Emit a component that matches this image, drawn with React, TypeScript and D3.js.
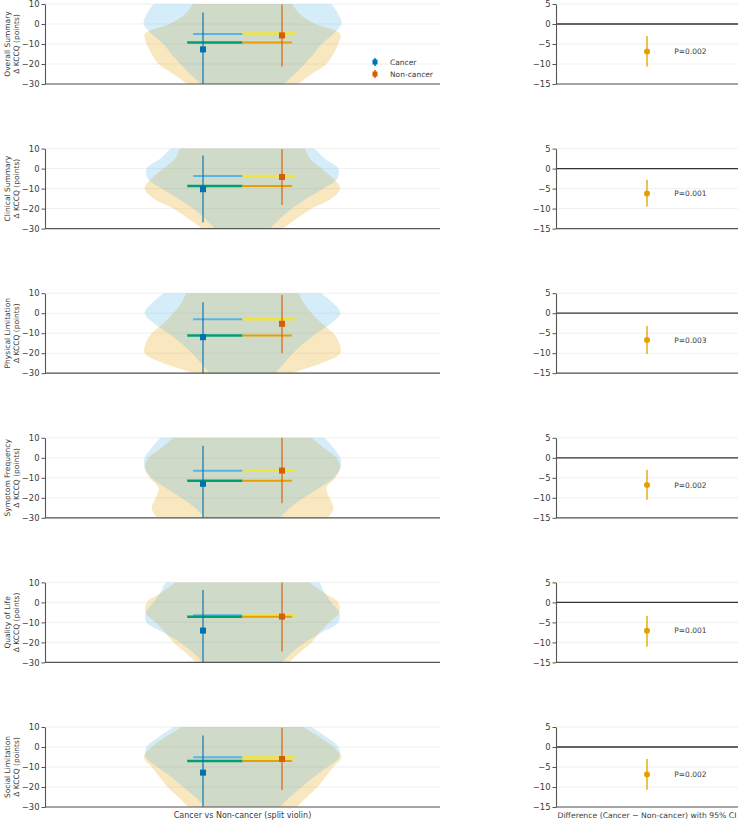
import * as React from 'react';
import * as d3 from 'd3';

// outcome rows
const metrics = [
  'Overall Summary',
  'Clinical Summary',
  'Physical Limitation',
  'Symptom Frequency',
  'Quality of Life',
  'Social Limitation'
];

// violin outlines: relative half-width at each Δ level
const densityLevels = [15, 10, 5, 0, -5, -10, -15, -20, -25, -30, -35];
const cancerDensity = [
  [0.80, 0.90, 0.97, 1.00, 0.92, 0.80, 0.72, 0.63, 0.53, 0.42, 0.32],
  [0.62, 0.73, 0.83, 0.97, 0.96, 0.82, 0.65, 0.50, 0.38, 0.28, 0.20],
  [0.70, 0.80, 0.92, 0.99, 0.90, 0.75, 0.62, 0.51, 0.42, 0.33, 0.25],
  [0.72, 0.83, 0.92, 0.99, 0.99, 0.92, 0.78, 0.62, 0.48, 0.38, 0.30],
  [0.70, 0.78, 0.83, 0.90, 0.98, 0.97, 0.80, 0.63, 0.50, 0.40, 0.30],
  [0.58, 0.70, 0.85, 0.97, 0.98, 0.86, 0.72, 0.60, 0.48, 0.38, 0.30]
];
const nonCancerDensity = [
  [0.42, 0.50, 0.58, 0.74, 0.99, 0.97, 0.92, 0.85, 0.70, 0.56, 0.42],
  [0.55, 0.63, 0.68, 0.80, 0.92, 0.99, 0.90, 0.70, 0.55, 0.41, 0.30],
  [0.52, 0.57, 0.62, 0.70, 0.80, 0.92, 0.98, 0.99, 0.80, 0.50, 0.30],
  [0.60, 0.70, 0.82, 0.95, 0.99, 0.94, 0.85, 0.88, 0.92, 0.86, 0.60],
  [0.58, 0.68, 0.82, 0.97, 0.98, 0.88, 0.78, 0.70, 0.58, 0.47, 0.36],
  [0.52, 0.62, 0.78, 0.92, 1.00, 0.92, 0.84, 0.76, 0.65, 0.55, 0.45]
];

// reference lines across each half
const cancerMedian = [-5.0, -3.7, -3.0, -6.5, -6.4, -5.1];
const cancerMeanLine = [-9.3, -8.7, -11.2, -11.5, -7.2, -7.0];
const nonCancerMedian = [-4.8, -3.7, -3.0, -6.5, -6.6, -5.1];
const nonCancerMeanLine = [-9.3, -8.7, -11.2, -11.5, -7.2, -7.0];

// point ± spread
const cancerMean = [-12.7, -10.3, -12.0, -13.0, -14.1, -12.8];
const cancerLow = [-31, -27, -30.5, -32, -34, -31];
const cancerHigh = [5.7, 6.5, 5.5, 6.0, 6.2, 5.7];
const nonCancerMean = [-5.7, -4.2, -5.3, -6.4, -7.1, -6.0];
const nonCancerLow = [-21.3, -18.2, -20.0, -22.7, -24.6, -21.5];
const nonCancerHigh = [9.8, 9.7, 9.1, 10.4, 10.6, 9.6];

// difference with 95% CI
const diffMean = [-6.9, -6.2, -6.7, -6.8, -7.1, -6.9];
const diffLow = [-10.7, -9.5, -10.2, -10.5, -11.1, -10.7];
const diffHigh = [-3.0, -2.8, -3.2, -3.0, -3.4, -3.0];
const pLabels = ['P=0.002', 'P=0.001', 'P=0.003', 'P=0.002', 'P=0.001', 'P=0.002'];

const leftTicks = [10, 0, -10, -20, -30];
const rightTicks = [5, 0, -5, -10, -15];

const FONT = 'DejaVu Sans, sans-serif';
const BLUE = '#0072B2';
const VERMILION = '#D55E00';
const TEXT = '#3a3a3a';

export default function App() {
  const ref = React.useRef<SVGSVGElement>(null);

  React.useEffect(() => {
    const svg = d3.select(ref.current);
    svg.selectAll('*').remove();

    const panelH = 80;
    const rowStep = 144.6;
    const xl = d3.scaleLinear().domain([-1, 1]).range([45, 440]);
    const xr = d3.scaleLinear().domain([-1, 1]).range([556, 738]);

    const styleAxis = (ax: d3.Selection<SVGGElement, unknown, null, undefined>) => {
      ax.select('.domain').attr('stroke', '#555').attr('stroke-width', 1.1);
      ax.selectAll('.tick line').attr('stroke', '#555');
      ax.selectAll('.tick text').attr('fill', TEXT)
        .style('font-family', FONT).style('font-size', '8.4px');
    };

    metrics.forEach((name, i) => {
      const top = 4 + i * rowStep;
      const yl = d3.scaleLinear().domain([-30, 10]).range([top + panelH, top]);
      const yr = d3.scaleLinear().domain([-15, 5]).range([top + panelH, top]);

      // ----- left: split violin -----
      const clipId = `clip-${i}`;
      svg.append('clipPath').attr('id', clipId)
        .append('rect')
        .attr('x', xl(-1)).attr('y', top)
        .attr('width', xl(1) - xl(-1)).attr('height', panelH);

      const gl = svg.append('g');
      gl.selectAll('line.grid')
        .data(leftTicks)
        .enter().append('line')
        .attr('x1', xl(-1)).attr('x2', xl(1))
        .attr('y1', d => yl(d)).attr('y2', d => yl(d))
        .attr('stroke', '#ebebeb').attr('stroke-width', 0.8);

      const plot = gl.append('g').attr('clip-path', `url(#${clipId})`);

      const violin = d3.area<number>()
        .y((_, j) => yl(densityLevels[j]))
        .x0(d => xl(-d * 0.5))
        .x1(d => xl(d * 0.5))
        .curve(d3.curveCatmullRom);

      plot.append('path').attr('d', violin(nonCancerDensity[i]))
        .attr('fill', '#E69F00').attr('fill-opacity', 0.25);
      plot.append('path').attr('d', violin(cancerDensity[i]))
        .attr('fill', '#56B4E9').attr('fill-opacity', 0.25);

      const hline = (v: number, a: number, b: number, color: string, w: number) => {
        plot.append('line')
          .attr('x1', xl(a)).attr('x2', xl(b))
          .attr('y1', yl(v)).attr('y2', yl(v))
          .attr('stroke', color).attr('stroke-width', w);
      };
      hline(cancerMedian[i], -0.25, 0, '#56B4E9', 2);
      hline(cancerMeanLine[i], -0.28, 0, '#009E73', 2.5);
      hline(nonCancerMedian[i], 0, 0.27, '#F0E442', 2.5);
      hline(nonCancerMeanLine[i], 0, 0.25, '#E69F00', 2);

      const errbar = (xp: number, m: number, lo: number, hi: number, color: string) => {
        plot.append('line')
          .attr('x1', xl(xp)).attr('x2', xl(xp))
          .attr('y1', yl(lo)).attr('y2', yl(hi))
          .attr('stroke', color).attr('stroke-opacity', 0.75).attr('stroke-width', 1.5);
        plot.append('rect')
          .attr('x', xl(xp) - 3).attr('y', yl(m) - 3)
          .attr('width', 6).attr('height', 6)
          .attr('fill', color);
      };
      errbar(-0.2, cancerMean[i], cancerLow[i], cancerHigh[i], BLUE);
      errbar(0.2, nonCancerMean[i], nonCancerLow[i], nonCancerHigh[i], VERMILION);

      const axL = gl.append('g')
        .attr('transform', `translate(${xl(-1)},0)`)
        .call(d3.axisLeft(yl).tickValues(leftTicks).tickSize(3.5).tickSizeOuter(0).tickPadding(2));
      styleAxis(axL);

      gl.append('line')
        .attr('x1', xl(-1)).attr('x2', xl(1))
        .attr('y1', top + panelH).attr('y2', top + panelH)
        .attr('stroke', '#555').attr('stroke-width', 1.2);

      const lab = gl.append('text')
        .attr('transform', `translate(9.5,${top + panelH / 2}) rotate(-90)`)
        .attr('text-anchor', 'middle')
        .attr('fill', TEXT)
        .style('font-family', FONT).style('font-size', '7.5px');
      lab.append('tspan').attr('x', 0).attr('dy', 0).text(name);
      lab.append('tspan').attr('x', 0).attr('dy', 9).text('Δ KCCQ (points)');

      // ----- right: difference -----
      const gr = svg.append('g');
      gr.selectAll('line.grid')
        .data(rightTicks)
        .enter().append('line')
        .attr('x1', xr(-1)).attr('x2', xr(1))
        .attr('y1', d => yr(d)).attr('y2', d => yr(d))
        .attr('stroke', '#ebebeb').attr('stroke-width', 0.8);
      gr.append('line')
        .attr('x1', xr(-1)).attr('x2', xr(1))
        .attr('y1', yr(0)).attr('y2', yr(0))
        .attr('stroke', '#333').attr('stroke-width', 1.3);

      gr.append('line')
        .attr('x1', xr(0)).attr('x2', xr(0))
        .attr('y1', yr(diffLow[i])).attr('y2', yr(diffHigh[i]))
        .attr('stroke', '#E8AE10').attr('stroke-width', 1.5);
      gr.append('circle')
        .attr('cx', xr(0)).attr('cy', yr(diffMean[i])).attr('r', 3)
        .attr('fill', '#E69F00');
      gr.append('text')
        .attr('x', xr(0.3)).attr('y', yr(diffMean[i]) + 2.5)
        .attr('fill', TEXT)
        .style('font-family', FONT).style('font-size', '7.5px')
        .text(pLabels[i]);

      const axR = gr.append('g')
        .attr('transform', `translate(${xr(-1)},0)`)
        .call(d3.axisLeft(yr).tickValues(rightTicks).tickSize(3.5).tickSizeOuter(0).tickPadding(2));
      styleAxis(axR);
      gr.append('line')
        .attr('x1', xr(-1)).attr('x2', xr(1))
        .attr('y1', top + panelH).attr('y2', top + panelH)
        .attr('stroke', '#555').attr('stroke-width', 1.2);

      if (i === 0) {
        const legend = [
          { label: 'Cancer', color: BLUE },
          { label: 'Non-cancer', color: VERMILION }
        ];
        legend.forEach((it, k) => {
          const ly = 62 + k * 12;
          svg.append('line')
            .attr('x1', 375).attr('x2', 375).attr('y1', ly - 4).attr('y2', ly + 4)
            .attr('stroke', it.color).attr('stroke-width', 1.5);
          svg.append('rect')
            .attr('x', 372.5).attr('y', ly - 2.5).attr('width', 5).attr('height', 5)
            .attr('fill', it.color);
          svg.append('text')
            .attr('x', 390).attr('y', ly + 2.5)
            .attr('fill', TEXT)
            .style('font-family', FONT).style('font-size', '7.5px')
            .text(it.label);
        });
      }
    });

    svg.append('text')
      .attr('x', xl(0)).attr('y', 818)
      .attr('text-anchor', 'middle').attr('fill', TEXT)
      .style('font-family', FONT).style('font-size', '8px')
      .text('Cancer vs Non-cancer (split violin)');
    svg.append('text')
      .attr('x', xr(0)).attr('y', 818)
      .attr('text-anchor', 'middle').attr('fill', TEXT)
      .style('font-family', FONT).style('font-size', '7.7px')
      .text('Difference (Cancer \u2212 Non-cancer) with 95% CI');
  }, []);

  return (
    <svg
      ref={ref}
      width={740}
      height={820}
      style={{ position: 'absolute', left: 0, top: 0, background: '#fff' }}
    />
  );
}
